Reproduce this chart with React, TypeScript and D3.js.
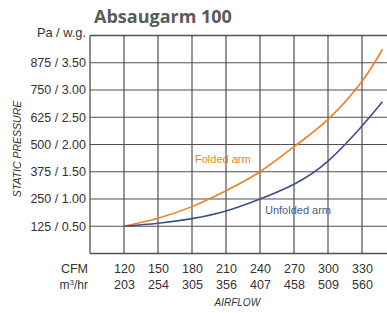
import React from "react";
import * as d3 from "d3";

const cfmTicks = [120, 150, 180, 210, 240, 270, 300, 330];
const m3hrTicks = ["203", "254", "305", "356", "407", "458", "509", "560"];
const paTicks = [125, 250, 375, 500, 625, 750, 875];
const paLabels = ["125 / 0.50", "250 / 1.00", "375 / 1.50", "500 / 2.00", "625 / 2.50", "750 / 3.00", "875 / 3.50"];

const foldedCfm = [120, 150, 180, 210, 240, 270, 300, 330, 348];
const foldedPa = [125, 162, 215, 288, 375, 490, 615, 790, 937];
const unfoldedCfm = [120, 150, 180, 210, 240, 270, 300, 330, 348];
const unfoldedPa = [125, 139, 160, 195, 250, 318, 424, 585, 696];

const W = 387;
const H = 313;
const FONT = "'Liberation Sans', Arial, sans-serif";

export default function App() {
  const x = d3.scaleLinear().domain([90, 330]).range([90, 362]);
  const y = d3.scaleLinear().domain([0, 1000]).range([253.5, 35.5]);
  const xMax = x.invert(W);
  const line = d3
    .line<[number, number]>()
    .x((d) => x(d[0]))
    .y((d) => y(d[1]))
    .curve(d3.curveNatural);
  const folded = foldedCfm.map((c, i) => [c, foldedPa[i]] as [number, number]);
  const unfolded = unfoldedCfm.map((c, i) => [c, unfoldedPa[i]] as [number, number]);
  const gridColor = "#505050";
  const textColor = "#333";

  return (
    <svg
      width={W}
      height={H}
      style={{ position: "absolute", left: 0, top: 0, background: "#fff" }}
    >
      <text x={94} y={22.7} fontFamily="'Open Sans', sans-serif" fontWeight={700} fontSize={18} fill="#5a5a5a">
        Absaugarm 100
      </text>
      {/* horizontal grid */}
      {paTicks.map((p) => (
        <line key={"h" + p} x1={x(90)} x2={x(xMax)} y1={y(p)} y2={y(p)} stroke={gridColor} strokeWidth={1.2} />
      ))}
      <line x1={x(90)} x2={x(xMax)} y1={y(1000)} y2={y(1000)} stroke={gridColor} strokeWidth={1.3} />
      <line x1={x(90)} x2={x(xMax)} y1={y(0)} y2={y(0)} stroke={gridColor} strokeWidth={1.3} />
      {/* vertical grid */}
      {cfmTicks.map((c) => (
        <line key={"v" + c} x1={x(c)} x2={x(c)} y1={y(1000)} y2={y(0)} stroke={gridColor} strokeWidth={1.2} />
      ))}
      <line x1={x(90)} x2={x(90)} y1={y(1000)} y2={y(0)} stroke={gridColor} strokeWidth={1.3} />

      {/* curves */}
      <path d={line(folded) || ""} fill="none" stroke="#ef7f22" strokeWidth={1.6} />
      <path d={line(unfolded) || ""} fill="none" stroke="#3f5287" strokeWidth={1.6} />
      <text x={195} y={163} fontFamily={FONT} fontSize={11} fill="#ef7f22">
        Folded arm
      </text>
      <text x={265} y={214} fontFamily={FONT} fontSize={11} fill="#4a5a88">
        Unfolded arm
      </text>

      {/* y labels */}
      <text x={86} y={y(1000) + 1} textAnchor="end" fontFamily={FONT} fontSize={12.8} fill={textColor}>
        Pa / w.g.
      </text>
      {paTicks.map((p, i) => (
        <text key={"yl" + p} x={86} y={y(p) + 4.3} textAnchor="end" fontFamily={FONT} fontSize={12.5} fill={textColor}>
          {paLabels[i]}
        </text>
      ))}
      <text
        transform={`translate(21,149) rotate(-90)`}
        textAnchor="middle"
        fontFamily={FONT}
        fontStyle="italic"
        fontSize={10.5}
        fill={textColor}
      >
        STATIC PRESSURE
      </text>

      {/* x labels */}
      <text x={88} y={272.5} textAnchor="end" fontFamily={FONT} fontSize={12.5} fill={textColor}>
        CFM
      </text>
      <text x={88} y={289.3} textAnchor="end" fontFamily={FONT} fontSize={12} fill={textColor}>
        m<tspan fontSize={8} dy={-4}>3</tspan>
        <tspan dy={4}>/hr</tspan>
      </text>
      {cfmTicks.map((c, i) => (
        <g key={"xl" + c}>
          <text x={x(c) + 0.5} y={272.5} textAnchor="middle" fontFamily={FONT} fontSize={12.5} fill={textColor}>
            {c}
          </text>
          <text x={x(c) + 0.5} y={289.3} textAnchor="middle" fontFamily={FONT} fontSize={12.5} fill={textColor}>
            {m3hrTicks[i]}
          </text>
        </g>
      ))}
      <text x={237.3} y={305.7} textAnchor="middle" fontFamily={FONT} fontStyle="italic" fontSize={10} fill={textColor}>
        AIRFLOW
      </text>
    </svg>
  );
}
